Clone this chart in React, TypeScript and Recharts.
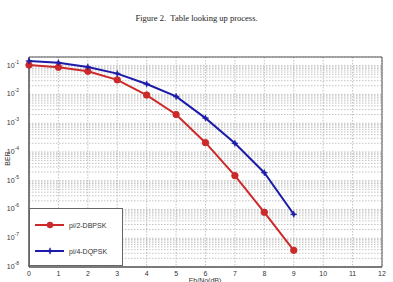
import React from "react";
import {
  LineChart,
  Line,
  XAxis,
  YAxis,
  CartesianGrid,
  ReferenceArea,
} from "recharts";

const ebno = [0, 1, 2, 3, 4, 5, 6, 7, 8, 9];
const dbpsk = [0.105, 0.088, 0.064, 0.032, 0.0095, 0.002, 0.00021, 0.000015, 8e-7, 3.8e-8];
const dqpsk = [0.145, 0.127, 0.09, 0.053, 0.023, 0.0085, 0.0015, 0.0002, 0.000019, 6.8e-7];

const xTicks = [0, 1, 2, 3, 4, 5, 6, 7, 8, 9, 10, 11, 12];
const decadeExps = [-8, -7, -6, -5, -4, -3, -2, -1];
const mantissas = [1, 2, 3, 4, 5, 6, 7, 8, 9];

const yTicks: number[] = [];
decadeExps.forEach((e) => {
  mantissas.forEach((m) => {
    const v = m * Math.pow(10, e);
    if (v <= 0.2000001) yTicks.push(v);
  });
});

const data = ebno.map((x, i) => ({ x, dbpsk: dbpsk[i], dqpsk: dqpsk[i] }));

const RED = "#cc2a2a";
const BLUE = "#1c1ca8";
const FONT = "'Liberation Sans', Arial, sans-serif";

const YTick = (props: any) => {
  const { x, y, payload } = props;
  const v = payload.value as number;
  const e = Math.round(Math.log10(v));
  if (Math.abs(v - Math.pow(10, e)) / v > 1e-6) return <g />;
  return (
    <text x={x - 2} y={y + 2} textAnchor="end" fontSize={7} fill="#333" fontFamily={FONT}>
      <tspan>10</tspan>
      <tspan dy={-4} fontSize={5}>{String(e)}</tspan>
    </text>
  );
};

const XTick = (props: any) => {
  const { x, y, payload } = props;
  return (
    <text x={x} y={y + 0.5} textAnchor="middle" fontSize={7} fill="#333" fontFamily={FONT}>
      {payload.value}
    </text>
  );
};

const Star = (props: any) => {
  const { cx, cy } = props;
  if (cx == null || cy == null) return <g />;
  const r = 3.2;
  const ri = 1.2;
  const pts: string[] = [];
  for (let i = 0; i < 8; i++) {
    const a = (Math.PI / 4) * i - Math.PI / 2;
    const rr = i % 2 === 0 ? r : ri;
    pts.push(`${cx + rr * Math.cos(a)},${cy + rr * Math.sin(a)}`);
  }
  return <polygon points={pts.join(" ")} fill={BLUE} stroke={BLUE} strokeWidth={0.6} />;
};

const Circle = (props: any) => {
  const { cx, cy } = props;
  if (cx == null || cy == null) return <g />;
  return <circle cx={cx} cy={cy} r={3.2} fill={RED} stroke={RED} />;
};

export default function App() {
  return (
    <div
      style={{
        position: "absolute",
        left: 0,
        top: 0,
        width: 393,
        height: 282,
        background: "#fff",
        overflow: "hidden",
      }}
    >
      <div
        style={{
          position: "absolute",
          left: 0,
          width: 393,
          top: 13,
          textAlign: "center",
          fontFamily: "'Liberation Serif', 'Times New Roman', serif",
          fontSize: 8.5,
          color: "#222",
        }}
      >
        Figure 2.&nbsp;&nbsp;Table looking up process.
      </div>
      <div style={{ position: "absolute", left: 0, top: 0 }}>
        <LineChart
          width={393}
          height={282}
          data={data}
          margin={{ top: 57, right: 11, bottom: 0, left: 9 }}
        >
          <CartesianGrid
            stroke="#9a9a9a"
            strokeDasharray="1.5 1.5"
            strokeWidth={0.6}
          />
          <XAxis
            dataKey="x"
            type="number"
            domain={[0, 12]}
            ticks={xTicks}
            interval={0}
            height={15}
            stroke="#555"
            tickLine={false}
            tick={<XTick />}
          />
          <YAxis
            type="number"
            scale="log"
            domain={[1e-8, 0.2]}
            allowDataOverflow
            ticks={yTicks}
            interval={0}
            width={20}
            stroke="#555"
            tickLine={false}
            tick={<YTick />}
          />
          <ReferenceArea
            x1={0}
            x2={12}
            y1={1e-8}
            y2={0.2}
            fill="none"
            stroke="#555"
            strokeWidth={1}
            ifOverflow="visible"
          />
          <Line
            dataKey="dbpsk"
            stroke={RED}
            strokeWidth={2}
            dot={<Circle />}
            isAnimationActive={false}
          />
          <Line
            dataKey="dqpsk"
            stroke={BLUE}
            strokeWidth={2}
            dot={<Star />}
            isAnimationActive={false}
          />
        </LineChart>
      </div>
      <div
        style={{
          position: "absolute",
          left: 29,
          top: 208,
          width: 94,
          height: 58,
          background: "#fff",
          border: "1px solid #666",
          boxSizing: "border-box",
          fontFamily: FONT,
          fontSize: 7,
          color: "#333",
        }}
      >
        <svg width={92} height={56} style={{ position: "absolute", left: 0, top: 0 }}>
          <line x1={5} y1={16} x2={34} y2={16} stroke={RED} strokeWidth={2} />
          <circle cx={20} cy={16} r={3.2} fill={RED} />
          <text x={39} y={18.5} fontSize={7} fill="#333" fontFamily={FONT}>pi/2-DBPSK</text>
          <line x1={5} y1={42} x2={34} y2={42} stroke={BLUE} strokeWidth={2} />
          <Star cx={20} cy={42} />
          <text x={39} y={44.5} fontSize={7} fill="#333" fontFamily={FONT}>pi/4-DQPSK</text>
        </svg>
      </div>
      <div
        style={{
          position: "absolute",
          left: -8,
          top: 155,
          width: 30,
          textAlign: "center",
          transform: "rotate(-90deg)",
          fontFamily: FONT,
          fontSize: 7,
          color: "#333",
        }}
      >
        BER
      </div>
      <div
        style={{
          position: "absolute",
          left: 175,
          top: 277,
          width: 60,
          textAlign: "center",
          fontFamily: FONT,
          fontSize: 7,
          lineHeight: "8px",
          color: "#333",
        }}
      >
        Eb/No(dB)
      </div>
    </div>
  );
}
